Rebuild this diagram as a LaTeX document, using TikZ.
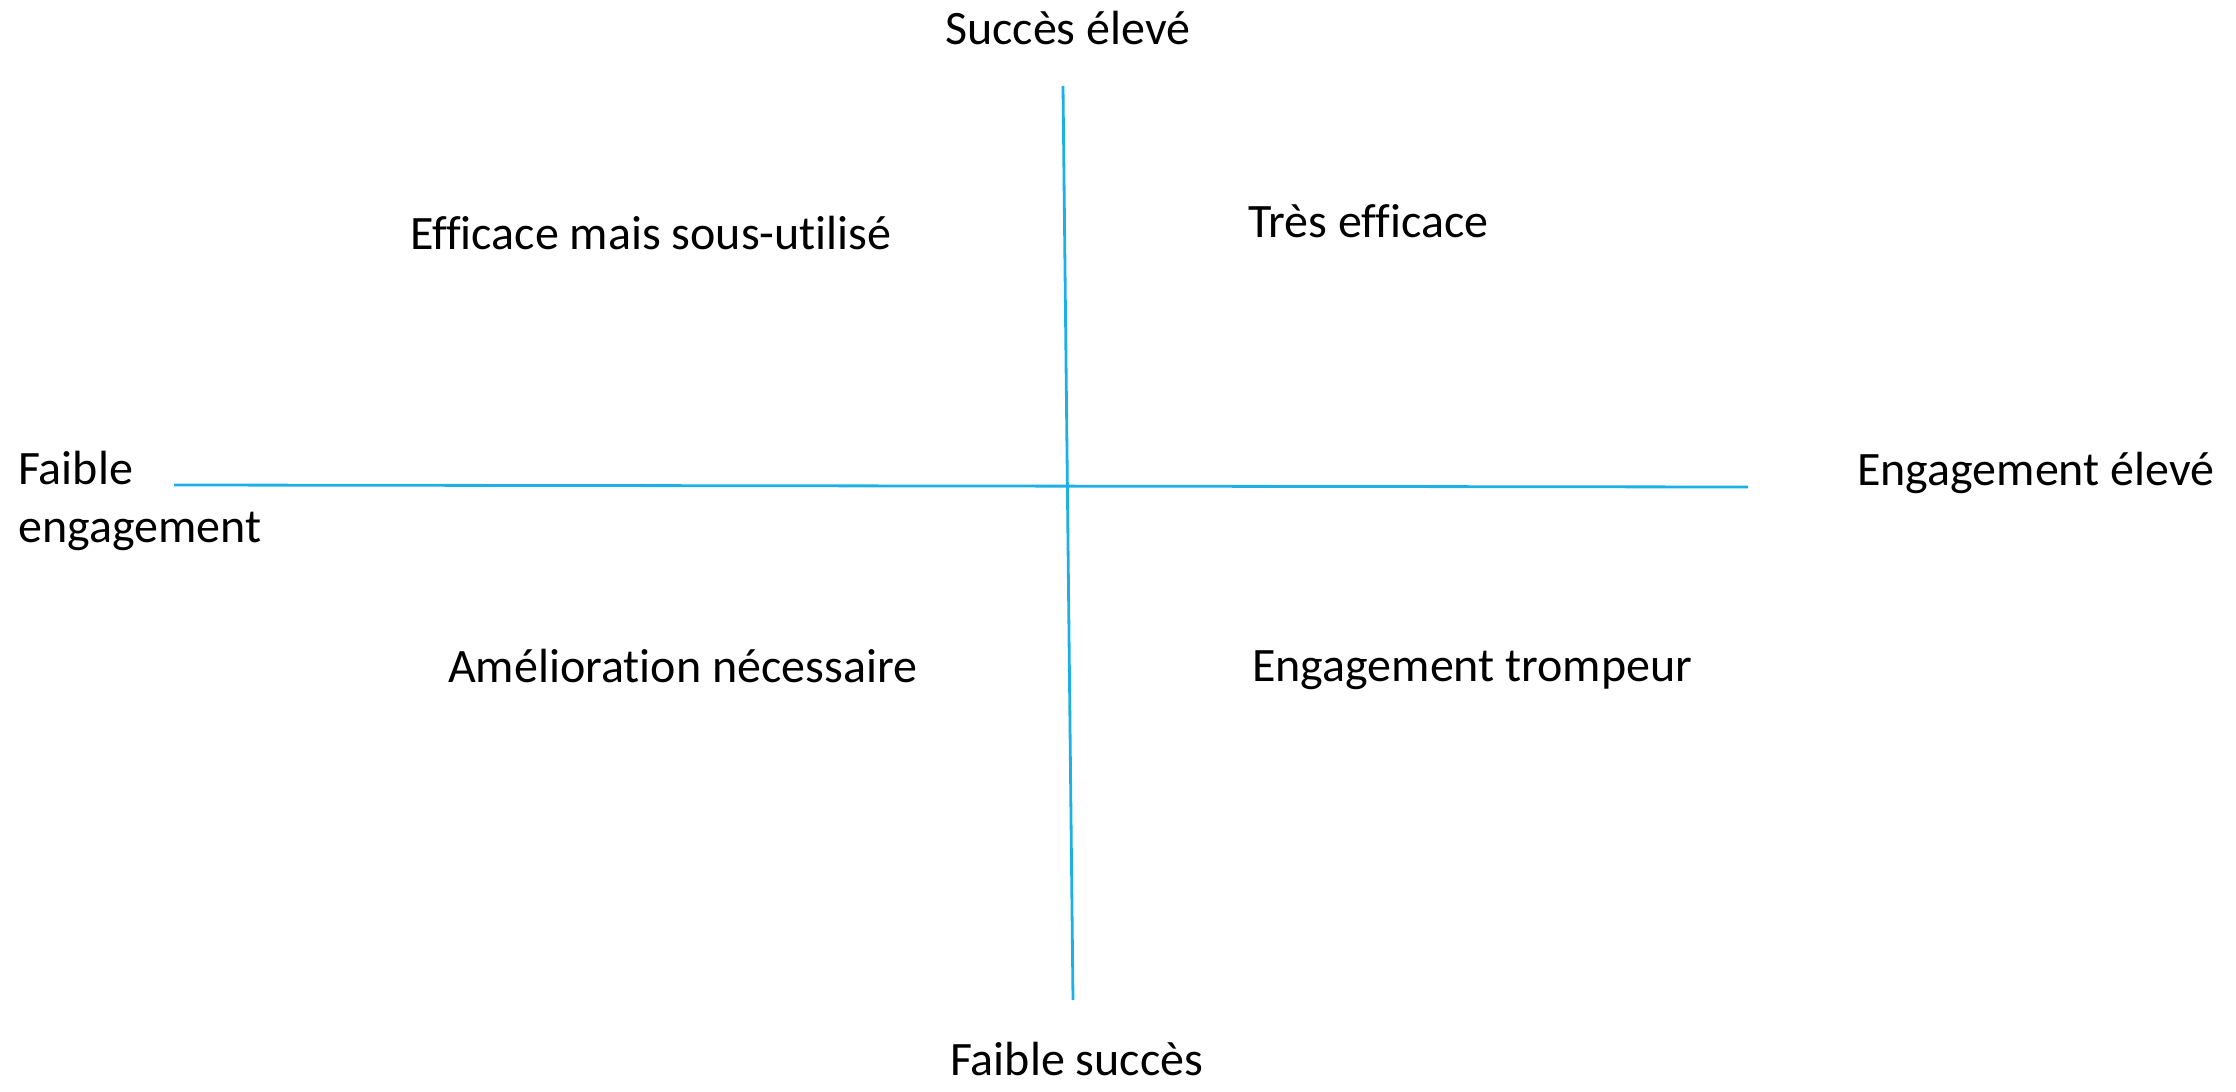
\documentclass[tikz,border=0pt]{standalone}
\usepackage{fontspec}
\setmainfont[Ligatures=NoCommon]{Carlito}
\usepackage{tikz}
\definecolor{axisblue}{RGB}{28,176,230}

\begin{document}
\begin{tikzpicture}[x=1pt,y=-1pt]
\useasboundingbox (0,0) rectangle (2236,1092);
\begin{scope}[every node/.style={inner sep=0pt,anchor=base west,font=\fontsize{48}{58}\selectfont}]
    \node (succes) at (945,44) {Succès élevé};
    \node (faible) at (950,1075) {Faible succès};
    \node (engag) at (1857,485) {Engagement élevé};
    \node[anchor=north west,align=left] (faibleeng) at (18,451) {Faible\\engagement};
    \node (sousutil) at (410,249) {Efficace mais sous-utilisé};
    \node (tres) at (1248,237) {Très efficace};
    \node (amelio) at (448,682) {Amélioration nécessaire};
    \node (trompeur) at (1252,681) {Engagement trompeur};
\end{scope}

\coordinate (top) at (1063,86);
\coordinate (bottom) at (1073,1000);
\coordinate (left) at (174,485);
\coordinate (right) at (1748,487);

\begin{scope}[every path/.style={draw=axisblue,line width=2.8pt}]
    \path (top) edge (bottom);
    \path (left) edge (right);
\end{scope}
\end{tikzpicture}
\end{document}
